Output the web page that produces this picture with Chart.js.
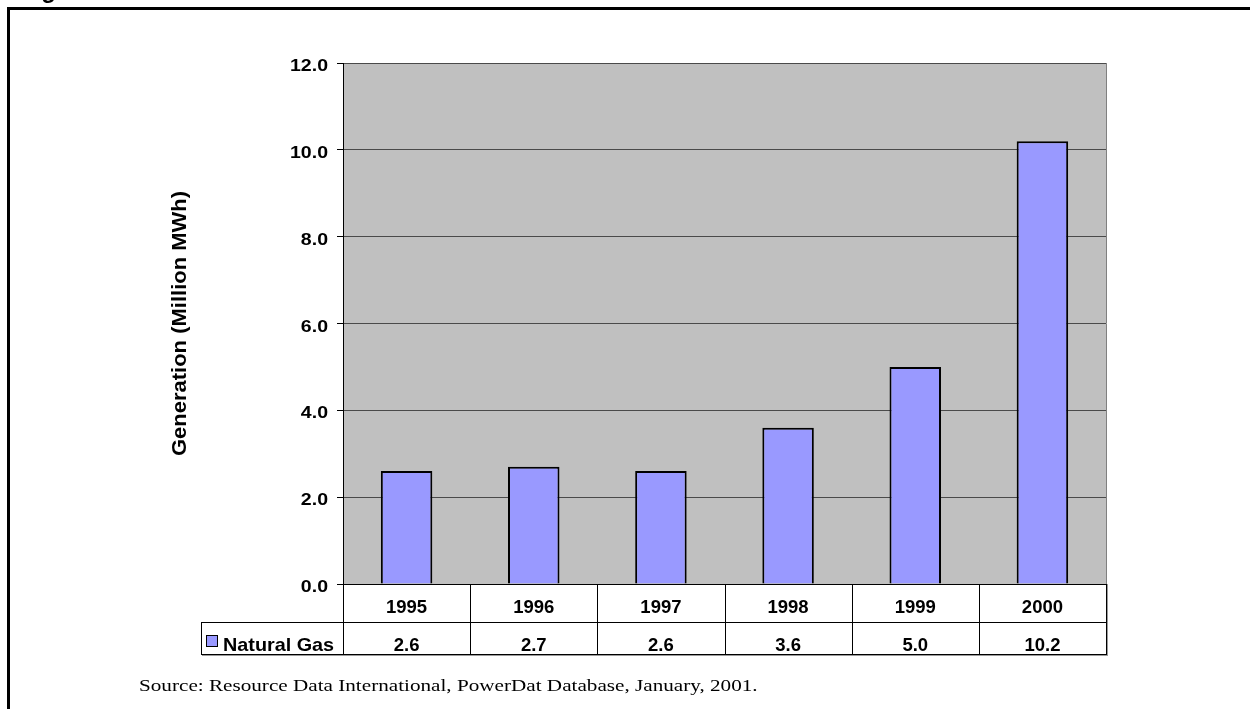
<!DOCTYPE html>
<html>
<head>
<meta charset="utf-8">
<script src="https://cdn.jsdelivr.net/npm/chart.js@4/dist/chart.umd.min.js"></script>
<style>
  html, body { margin: 0; padding: 0; background: #fff; }
  #wrap { position: relative; width: 1250px; height: 709px; }
</style>
</head>
<body>
<div id="wrap"><canvas id="chart"></canvas></div>
<script>
// Natural gas generation by year
const years = ['1995', '1996', '1997', '1998', '1999', '2000'];
const naturalGas = [2.6, 2.7, 2.6, 3.6, 5.0, 10.2];
const seriesName = 'Natural Gas';
const yTitle = 'Generation (Million MWh)';
const yMin = 0, yMax = 12, yStep = 2;
const figureTitle = 'Figure';
const sourceNote = 'Source: Resource Data International, PowerDat Database, January, 2001.';

const BAR_FILL = '#9999ff';
const PLOT_BG = '#c0c0c0';
const TABLE_ROW_H = [38, 32];
const LEGEND_LEFT = 201;
const SANS = '"Liberation Sans", Arial, sans-serif';
const SERIF = '"Liberation Serif", "Times New Roman", serif';

// text with a horizontal stretch factor
function stretchedText(ctx, text, x, y, align, sx) {
  ctx.save();
  ctx.translate(x, y);
  ctx.scale(sx, 1);
  ctx.textAlign = align;
  ctx.textBaseline = 'alphabetic';
  ctx.fillText(text, 0, 0);
  ctx.restore();
}

// Frame, plot background, axis texts and the data table under the axis
const framePlugin = {
  id: 'frame',
  beforeDraw(chart) {
    const { ctx, chartArea: a } = chart;
    ctx.save();
    ctx.fillStyle = '#fff';
    ctx.fillRect(0, 0, chart.width, chart.height);
    ctx.fillStyle = PLOT_BG;
    ctx.fillRect(a.left, a.top, a.right - a.left, a.bottom - a.top);
    ctx.restore();
  },
  afterDraw(chart) {
    const { ctx, chartArea: a, scales } = chart;
    const x = scales.x, y = scales.y;
    ctx.save();

    // outer frame
    ctx.fillStyle = '#000';
    ctx.fillRect(7, 7, chart.width - 7, 3);
    ctx.fillRect(7, 7, 3, chart.height - 7);

    // cut-off heading
    ctx.font = 'bold 24px ' + SANS;
    stretchedText(ctx, figureTitle, 20, -2, 'left', 1);

    // y tick labels
    ctx.font = 'bold 17px ' + SANS;
    y.ticks.forEach(t => {
      const py = y.getPixelForValue(t.value);
      stretchedText(ctx, Number(t.value).toFixed(1), 328, py + 8, 'right', 1.15);
    });

    // y axis title
    ctx.save();
    ctx.translate(186, (a.top + a.bottom) / 2);
    ctx.rotate(-Math.PI / 2);
    ctx.font = 'bold 20px ' + SANS;
    stretchedText(ctx, yTitle, 0, 0, 'center', 1.1);
    ctx.restore();

    // right edge of plot
    ctx.strokeStyle = '#808080';
    ctx.lineWidth = 1;
    ctx.beginPath();
    ctx.moveTo(Math.round(a.right) + 0.5, a.top);
    ctx.lineTo(Math.round(a.right) + 0.5, a.bottom);
    ctx.stroke();

    // data table
    const top = Math.round(a.bottom);
    const mid = top + TABLE_ROW_H[0];
    const bot = mid + TABLE_ROW_H[1];
    const left = Math.round(a.left);
    const right = Math.round(a.right);
    const half = (x.getPixelForValue(1) - x.getPixelForValue(0)) / 2;

    ctx.strokeStyle = '#000';
    ctx.beginPath();
    ctx.moveTo(left, top + 0.5); ctx.lineTo(right + 1, top + 0.5);
    ctx.moveTo(LEGEND_LEFT, mid + 0.5); ctx.lineTo(right + 1, mid + 0.5);
    ctx.moveTo(LEGEND_LEFT, bot + 0.5); ctx.lineTo(right + 1, bot + 0.5);
    ctx.moveTo(LEGEND_LEFT + 0.5, mid); ctx.lineTo(LEGEND_LEFT + 0.5, bot + 1);
    years.forEach((_, i) => {
      const bx = Math.round(x.getPixelForValue(i) - half) + 0.5;
      ctx.moveTo(bx, top); ctx.lineTo(bx, bot + 1);
    });
    ctx.moveTo(right + 0.5, top); ctx.lineTo(right + 0.5, bot + 1);
    ctx.stroke();

    // soft shadow on outer edges
    ctx.strokeStyle = '#9a9a9a';
    ctx.beginPath();
    ctx.moveTo(right + 1.5, top); ctx.lineTo(right + 1.5, bot + 2);
    ctx.moveTo(LEGEND_LEFT + 1, bot + 1.5); ctx.lineTo(right + 2, bot + 1.5);
    ctx.stroke();

    ctx.fillStyle = '#000';
    ctx.font = 'bold 18.5px ' + SANS;
    years.forEach((yr, i) => {
      const cx = x.getPixelForValue(i);
      stretchedText(ctx, yr, cx, top + 29, 'center', 1);
      stretchedText(ctx, naturalGas[i].toFixed(1), cx, mid + 29, 'center', 1);
    });

    // legend key
    ctx.fillStyle = BAR_FILL;
    ctx.fillRect(206, 635, 11, 11);
    ctx.strokeStyle = '#000';
    ctx.strokeRect(206.5, 635.5, 11, 11);
    ctx.fillStyle = '#000';
    ctx.font = 'bold 18.5px ' + SANS;
    stretchedText(ctx, seriesName, 223, mid + 29, 'left', 1.07);

    // source note
    ctx.font = '17px ' + SERIF;
    stretchedText(ctx, sourceNote, 139, 691, 'left', 1.245);

    ctx.restore();
  }
};

new Chart(document.getElementById('chart'), {
  type: 'bar',
  data: {
    labels: years,
    datasets: [{
      label: seriesName,
      data: naturalGas,
      backgroundColor: BAR_FILL,
      borderColor: '#000',
      borderWidth: 2,
      barPercentage: 0.405,
      categoryPercentage: 1
    }]
  },
  options: {
    responsive: true,
    maintainAspectRatio: false,
    animation: false,
    events: [],
    layout: { padding: { left: 169, right: 144, top: 63, bottom: 125 } },
    plugins: { legend: { display: false }, tooltip: { enabled: false } },
    scales: {
      x: { display: false },
      y: {
        min: yMin,
        max: yMax,
        afterFit(scale) { scale.width = 174; },
        ticks: { stepSize: yStep, display: false },
        grid: { color: '#4a4a4a', tickColor: '#000', tickLength: 6, lineWidth: 1 },
        border: { display: true, color: '#000', width: 1 },
        title: { display: false }
      }
    }
  },
  plugins: [framePlugin]
});
</script>
</body>
</html>
